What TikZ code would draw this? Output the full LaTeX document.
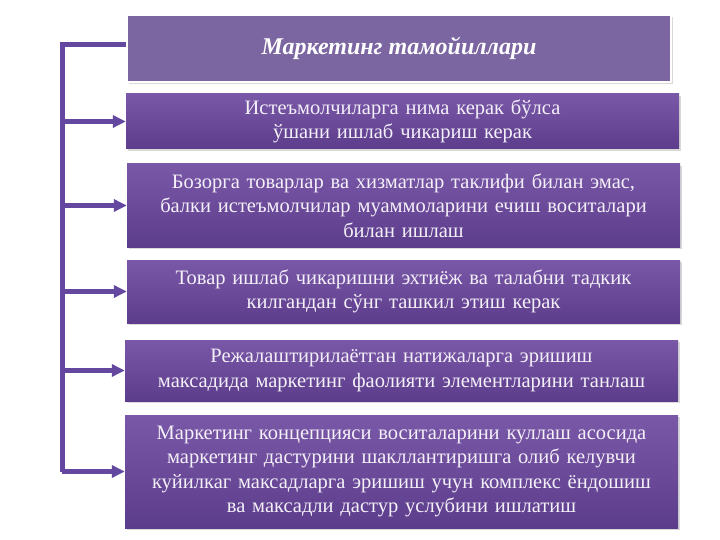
\documentclass[tikz,border=0pt]{standalone}
\usepackage{fontspec}
\setmainfont{Liberation Serif}
\usetikzlibrary{arrows.meta,shadows}
\definecolor{boxtop}{HTML}{7A58A8}
\definecolor{boxbottom}{HTML}{5C3D8B}
\definecolor{titlefill}{HTML}{7B66A1}
\definecolor{spinecolor}{HTML}{6448A0}
\definecolor{boxtext}{HTML}{F4F0F8}
\begin{document}
\begin{tikzpicture}[x=1pt,y=-1pt,principle_node/.style={rectangle,top color=boxtop,bottom color=boxbottom,minimum width=553pt,text width=545pt,align=center,text=boxtext,font=\fontsize{20.5}{24.5}\selectfont,drop shadow={opacity=0.3,shadow xshift=2pt,shadow yshift=-2pt}},title_node/.style={rectangle,fill=titlefill,draw=white,line width=2pt,minimum width=544pt,minimum height=67pt,text=white,font=\fontsize{24}{28}\selectfont\bfseries\itshape,drop shadow={opacity=0.3,shadow xshift=2pt,shadow yshift=-2pt}},spine/.style={draw=spinecolor,line width=5pt},branch/.style={spine,-{Triangle[length=13pt,width=12pt]}}]
		
		\useasboundingbox (0,0) rectangle (720,540);
		
		\node[title_node] (title) at (399,48.5) {Маркетинг тамойиллари};
		
		\node[principle_node,minimum height=55pt] (p1) at (402.5,121.5) {Истеъмолчиларга нима керак бўлса\\ ўшани ишлаб чикариш керак};
		\node[principle_node,minimum height=83pt] (p2) at (403.5,205.5) {Бозорга товарлар ва хизматлар таклифи билан эмас,\\ балки истеъмолчилар муаммоларини ечиш воситалари\\ билан ишлаш};
		\node[principle_node,minimum height=63pt] (p3) at (403.5,291.5) {Товар ишлаб чикаришни эхтиёж ва талабни тадкик\\ килгандан сўнг ташкил этиш керак};
		\node[principle_node,minimum height=61pt] (p4) at (401.5,370.5) {Режалаштирилаётган натижаларга  эришиш\\ максадида маркетинг фаолияти элементларини танлаш};
		\node[principle_node,minimum height=113pt] (p5) at (401.5,471.5) {Маркетинг концепцияси воситаларини куллаш асосида\\ маркетинг дастурини шакллантиришга олиб келувчи\\ куйилкаг максадларга эришиш учун комплекс ёндошиш\\ ва максадли дастур услубини ишлатиш};
		
		\coordinate (spine_top) at (62,45);
		\coordinate (spine_bottom) at (62,471.5);
		
		\draw[spine] (spine_bottom) -- (spine_top) -- (spine_top -| title.west);
		
		\foreach \p in {p1,p2,p3,p4,p5}
			\draw[branch] (spine_top |- \p.west) -- (\p.west);
		\end{tikzpicture}
\end{document}
